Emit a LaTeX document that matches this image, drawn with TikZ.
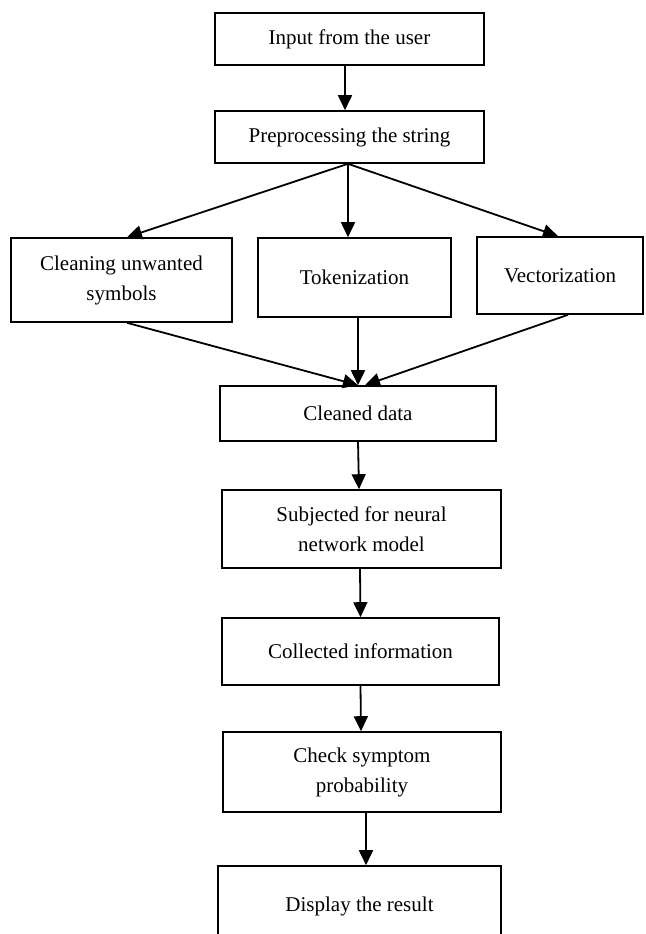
\documentclass[tikz,border=0pt]{standalone}
\usepackage{fontspec}
\setmainfont{Liberation Serif}
\usetikzlibrary{arrows.meta}
\tikzset{
  box/.style={draw, line width=1.6pt, inner sep=0pt, align=center,
    font=\fontsize{21}{30}\selectfont},
  flow/.style={line width=1.8pt, -{Triangle[length=15pt,width=14pt]}}
}
\begin{document}
\begin{tikzpicture}[x=1pt,y=-1pt]
\clip (0,0) rectangle (645,934);
\fill[white] (0,0) rectangle (645,934);
\node[box, minimum width=269pt, minimum height=52pt] (in) at (349.5,39) {Input from the user};
\node[box, minimum width=269pt, minimum height=52pt] (pre) at (349.5,137) {Preprocessing the string};
\node[box, minimum width=221pt, minimum height=84pt] (clean) at (121.5,280) {Cleaning unwanted\\symbols};
\node[box, minimum width=193pt, minimum height=79pt] (tok) at (354.5,277.5) {Tokenization};
\node[box, minimum width=166pt, minimum height=77pt] (vec) at (560,275.5) {Vectorization};
\node[box, minimum width=276pt, minimum height=55pt] (cd) at (358,413.5) {Cleaned data};
\node[box, minimum width=279pt, minimum height=78pt] (sub) at (361.5,529) {Subjected for neural\\network model};
\node[box, minimum width=277pt, minimum height=67pt] (col) at (360.5,651.5) {Collected information};
\node[box, minimum width=278pt, minimum height=80pt] (chk) at (362,772) {Check symptom\\probability};
\node[box, minimum width=283pt, minimum height=80pt] (disp) at (359.5,906) {Display the result};
\coordinate (ps) at ([xshift=-1.5pt]pre.south);
\draw[flow] ([xshift=-4.5pt]in.south) -- ([xshift=-4.5pt]pre.north);
\draw[flow] (ps) -- ([xshift=5.5pt]clean.north);
\draw[flow] (ps) -- (ps |- tok.north);
\draw[flow] (ps) -- ([xshift=-2pt]vec.north);
\draw[flow] ([xshift=5.5pt]clean.south) -- (cd.north);
\draw[flow] (cd.north |- tok.south) -- (cd.north);
\draw[flow] ([xshift=8pt]vec.south) -- ([xshift=7pt]cd.north);
\draw[flow] (cd.south) -- ([xshift=-2.5pt]sub.north);
\draw[flow] ([xshift=-1.5pt]sub.south) -- (col.north);
\draw[flow] (col.north |- col.south) -- ([xshift=-1pt]chk.north);
\draw[flow] ([xshift=4pt]chk.south) -- ([xshift=6.5pt]disp.north);
\end{tikzpicture}
\end{document}
